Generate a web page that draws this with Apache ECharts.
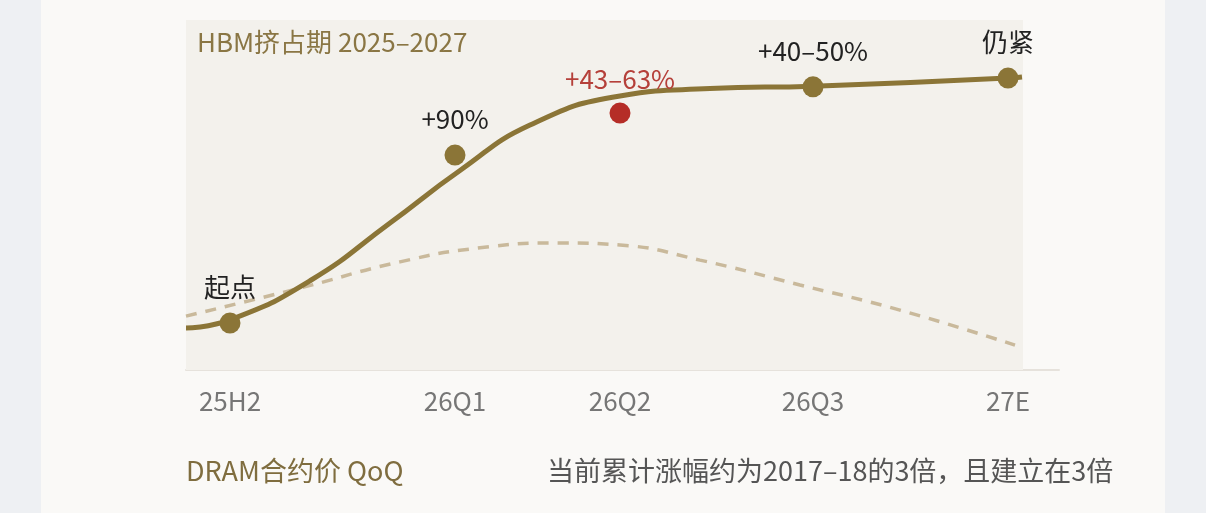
<!DOCTYPE html>
<html>
<head>
<meta charset="utf-8">
<script src="https://cdn.jsdelivr.net/npm/echarts@6/dist/echarts.min.js"></script>
<style>
  html, body { margin: 0; padding: 0; background: #eef0f3; }
  #card { position: absolute; left: 41px; top: 0; width: 1124px; height: 513px; background: #faf9f7; }
  #chart { position: absolute; left: 0; top: 0; width: 1206px; height: 513px; }
</style>
</head>
<body>
<div id="card"></div>
<div id="chart"></div>
<script>
// 刻度位置与标签
const tickPos = [0, 2.25, 3.9, 5.83, 7.78];
const tickLabels = ['25H2', '26Q1', '26Q2', '26Q3', '27E'];

// 实线 (HBM挤占期价格曲线)
const mainCurve = [
  [-0.44, 12], [0, 14.3], [0.8, 25.5], [1.6, 42], [2.3, 57], [3.0, 70],
  [3.9, 78.3], [4.8, 80.4], [5.83, 81.1], [7.78, 83.4], [7.92, 83.7]
];
// 虚线 (对比周期)
const dashCurve = [
  [-0.44, 15.4], [0.7, 23.4], [1.7, 30.9], [2.5, 34.9], [3.3, 36.3],
  [3.9, 35.7], [4.7, 31.4], [5.7, 24.3], [6.7, 17.1], [7.85, 7.1]
];
// 标注点
const dotPoints = [[0, 13.4], [2.25, 61.4], [5.83, 80.9], [7.78, 83.4]];
const dotLabels = ['起点', '+90%', '+40–50%', '仍紧'];
const redPoint = [3.9, 73.4];
const redLabel = '+43–63%';

const gold = '#8b7537';
const font = '"Noto Sans CJK SC", "Noto Sans", sans-serif';

const chart = echarts.init(document.getElementById('chart'));

chart.setOption({
  animation: false,
  grid: { left: 186, right: 147, top: 20, bottom: 143 },
  xAxis: {
    type: 'value', min: -0.44, max: 8.29,
    splitLine: { show: false },
    axisLine: { show: true, lineStyle: { color: '#e6e2dc', width: 2 } },
    axisTick: { show: false },
    axisLabel: { show: false }
  },
  yAxis: {
    type: 'value', min: 0, max: 100,
    show: false
  },
  graphic: [
    { type: 'text', left: 197, top: 29, z: 100, style: { text: 'HBM挤占期 2025–2027', fill: '#8a7644', font: '26px ' + font } },
    { type: 'text', left: 186, top: 457, z: 100, style: { text: 'DRAM合约价 QoQ', fill: '#7f6d3f', font: '27px ' + font } },
    { type: 'text', left: 547, top: 457, z: 100, style: { text: '当前累计涨幅约为2017–18的3倍，且建立在3倍', fill: '#555', font: '27px ' + font } }
  ],
  series: [
    {
      type: 'line', data: dashCurve, smooth: 0.5, symbol: 'none',
      lineStyle: { color: '#c9b99b', width: 3.5, type: [11, 9] },
      markArea: {
        silent: true,
        itemStyle: { color: '#f3f1ec' },
        data: [[{ xAxis: -0.44, yAxis: 0 }, { xAxis: 7.93, yAxis: 100 }]]
      },
      z: 2
    },
    {
      type: 'line', data: mainCurve, smooth: 0.5, symbol: 'none',
      lineStyle: { color: gold, width: 5 }, z: 3
    },
    {
      type: 'scatter', symbolSize: 21, z: 4,
      itemStyle: { color: gold, opacity: 1 },
      data: dotPoints.map((p, i) => ({ value: p, name: dotLabels[i] })),
      label: {
        show: true, position: 'top', distance: 12,
        formatter: p => p.name, color: '#222', fontSize: 26, fontFamily: font
      }
    },
    {
      type: 'scatter', symbolSize: 21, z: 4,
      itemStyle: { color: '#b52d27', opacity: 1 },
      data: [{ value: redPoint, name: redLabel }],
      label: {
        show: true, position: 'top', distance: 10,
        formatter: p => p.name, color: '#b5403a', fontSize: 26, fontFamily: font
      }
    },
    {
      // x轴标签
      type: 'scatter', symbolSize: 0, silent: true,
      data: tickPos.map((x, i) => ({ value: [x, 0], name: tickLabels[i] })),
      label: {
        show: true, position: 'bottom', distance: 18,
        formatter: p => p.name, color: '#555', fontSize: 26, fontFamily: font
      }
    }
  ]
});
</script>
</body>
</html>
